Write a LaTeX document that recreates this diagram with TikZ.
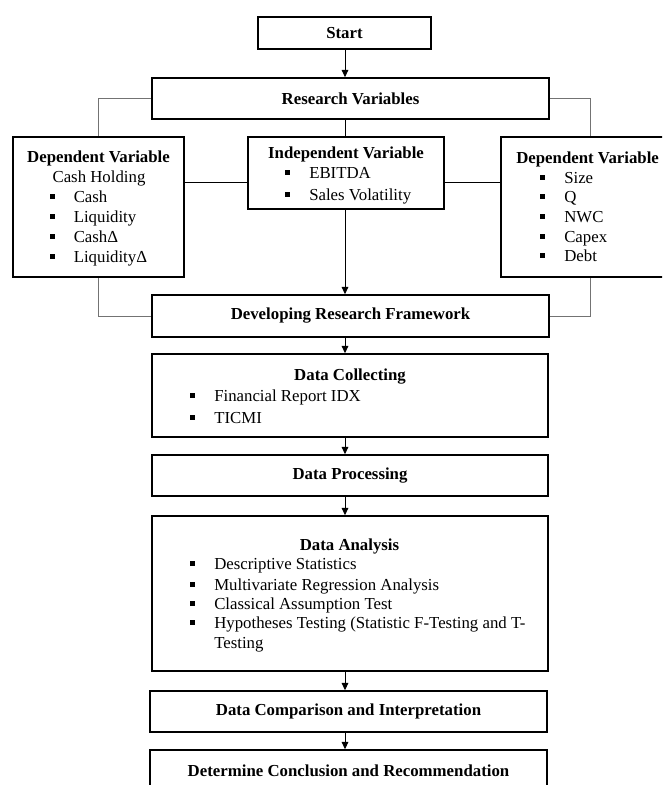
\documentclass[tikz,border=0pt]{standalone}
\usepackage{fontspec}
\setmainfont{Liberation Serif}
\usetikzlibrary{arrows.meta}
\newcommand\fsz{\fontsize{12.6pt}{15pt}\selectfont}
\newcommand\bitem[1]{\makebox[18pt][l]{\raisebox{2.3pt}{\rule{3.6pt}{3.6pt}}}#1}
\begin{document}
\begin{tikzpicture}[x=0.75pt,y=-0.75pt,
  box/.style={draw, line width=1.2pt, fill=white, inner sep=0pt, font=\fsz\bfseries},
  tx/.style={inner sep=0pt, anchor=base west, font=\fsz},
  ctr/.style={inner sep=0pt, anchor=base, font=\fsz},
  ttl/.style={inner sep=0pt, anchor=base, font=\fsz\bfseries},
  conn/.style={line width=0.75pt},
  side/.style={line width=0.75pt, draw=black!55},
  arr/.style={line width=0.75pt, -{Triangle[length=5.5pt,width=5pt]}}]
\useasboundingbox (0,0) rectangle (662,785);
\fill[white] (0,0) rectangle (662,785);
\clip (0,0) rectangle (662,785);

% boxes
\node[box, minimum width=129.75pt, minimum height=24pt] (start) at (344.5,33) {Start};
\node[box, minimum width=297.75pt, minimum height=30.75pt] (research) at (350.5,98.5) {Research Variables};
\node[box, minimum width=128.25pt, minimum height=105pt] (depL) at (98.5,207) {};
\node[box, minimum width=147pt, minimum height=54pt] (indep) at (346,173) {};
\node[box, minimum width=133.5pt, minimum height=105pt] (depR) at (590,207) {};
\node[box, minimum width=297.75pt, minimum height=31.5pt] (develop) at (350.5,316) {Developing Research Framework};
\node[box, minimum width=297pt, minimum height=62.25pt] (collect) at (350,395.5) {};
\node[box, minimum width=297pt, minimum height=30.75pt] (process) at (350,475.5) {Data Processing};
\node[box, minimum width=297pt, minimum height=116.25pt] (analysis) at (350,593.5) {};
\node[box, minimum width=297.75pt, minimum height=30.75pt] (compare) at (348.5,711.5) {Data Comparison and Interpretation};
\node[box, minimum width=297.75pt, minimum height=31.5pt] (determine) at (348.5,771) {Determine Conclusion and Recommendation};

% left dependent
\node[ttl] (l0) at (98.5,162) {Dependent Variable};
\node[ctr] (l1) at (99,182) {Cash Holding};
\node[tx] (l2) at (49.5,202) {\bitem{Cash}};
\node[tx] (l3) at (49.5,222) {\bitem{Liquidity}};
\node[tx] (l4) at (49.5,242) {\bitem{CashΔ}};
\node[tx] (l5) at (49.5,262) {\bitem{LiquidityΔ}};

% independent
\node[ttl] (i0) at (346,158) {Independent Variable};
\node[tx] (i1) at (285,178) {\bitem{EBITDA}};
\node[tx] (i2) at (285,200) {\bitem{Sales Volatility}};

% right dependent
\node[ttl, anchor=base west] (r0) at (516,163) {Dependent Variable};
\node[tx] (r1) at (540,183) {\bitem{Size}};
\node[tx] (r2) at (540,202) {\bitem{Q}};
\node[tx] (r3) at (540,222) {\bitem{NWC}};
\node[tx] (r4) at (540,242) {\bitem{Capex}};
\node[tx] (r5) at (540,261) {\bitem{Debt}};

% data collecting
\node[ttl] (c0) at (350,380) {Data Collecting};
\node[tx] (c1) at (190,401) {\bitem{Financial Report IDX}};
\node[tx] (c2) at (190,423) {\bitem{TICMI}};

% data analysis
\node[ttl] (a0) at (349.5,550) {Data Analysis};
\node[tx] (a1) at (190,569) {\bitem{Descriptive Statistics}};
\node[tx] (a2) at (190,590) {\bitem{Multivariate Regression Analysis}};
\node[tx] (a3) at (190,609) {\bitem{Classical Assumption Test}};
\node[tx] (a4) at (190,628) {\bitem{Hypotheses Testing (Statistic F-Testing and T-}};
\node[tx] (a5) at (214,648) {Testing};

% connectors
\coordinate (ax) at (345,0);
\coordinate (hy) at (0,182);
\draw[arr] (start.south -| ax) -- (research.north -| ax);
\draw[conn] (research.south -| ax) -- (indep.north -| ax);
\draw[side] (research.west) -| (depL.north);
\draw[side] (research.east) -| (depR.north);
\draw[conn] (depL.east |- hy) -- (indep.west |- hy);
\draw[conn] (indep.east |- hy) -- (depR.west |- hy);
\draw[arr] (indep.south -| ax) -- (develop.north -| ax);
\draw[side] (depL.south) |- (develop.west);
\draw[side] (depR.south) |- (develop.east);
\draw[arr] (develop.south -| ax) -- (collect.north -| ax);
\draw[arr] (collect.south -| ax) -- (process.north -| ax);
\draw[arr] (process.south -| ax) -- (analysis.north -| ax);
\draw[arr] (analysis.south -| ax) -- (compare.north -| ax);
\draw[arr] (compare.south -| ax) -- (determine.north -| ax);
\end{tikzpicture}
\end{document}
